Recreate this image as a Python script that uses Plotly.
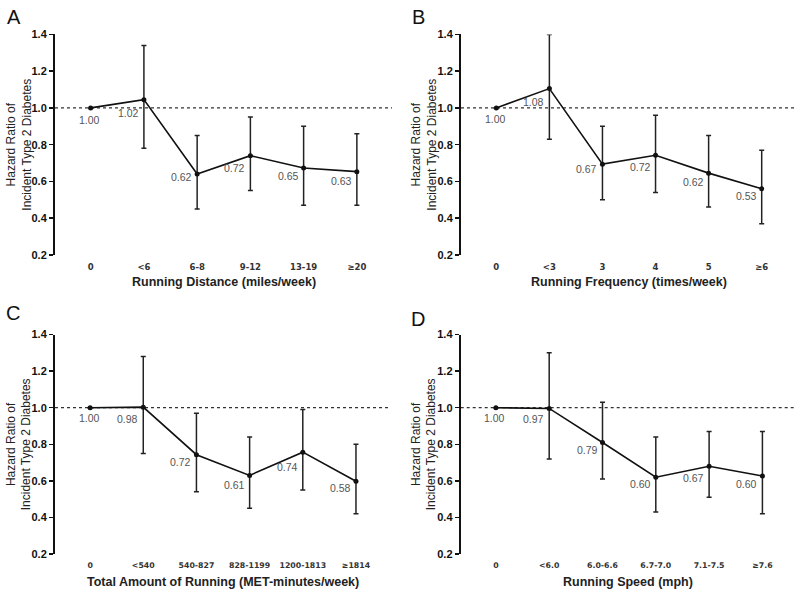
import plotly.graph_objects as go

# ---------------- data ----------------
cats_a = ["0", "<6", "6-8", "9-12", "13-19", "≥20"]
hr_a = [1.00, 1.045, 0.64, 0.74, 0.673, 0.653]
up_a = [1.00, 1.34, 0.85, 0.95, 0.90, 0.86]
lo_a = [1.00, 0.78, 0.45, 0.55, 0.47, 0.47]
lab_a = ["1.00", "1.02", "0.62", "0.72", "0.65", "0.63"]

cats_b = ["0", "<3", "3", "4", "5", "≥6"]
hr_b = [1.00, 1.105, 0.694, 0.742, 0.645, 0.56]
up_b = [1.00, 1.40, 0.90, 0.96, 0.85, 0.77]
lo_b = [1.00, 0.83, 0.50, 0.54, 0.46, 0.37]
lab_b = ["1.00", "1.08", "0.67", "0.72", "0.62", "0.53"]

cats_c = ["0", "<540", "540-827", "828-1199", "1200-1813", "≥1814"]
hr_c = [1.00, 1.003, 0.743, 0.63, 0.757, 0.598]
up_c = [1.00, 1.28, 0.97, 0.84, 0.99, 0.80]
lo_c = [1.00, 0.75, 0.54, 0.45, 0.55, 0.42]
lab_c = ["1.00", "0.98", "0.72", "0.61", "0.74", "0.58"]

cats_d = ["0", "<6.0", "6.0-6.6", "6.7-7.0", "7.1-7.5", "≥7.6"]
hr_d = [1.00, 0.996, 0.81, 0.62, 0.68, 0.627]
up_d = [1.00, 1.30, 1.03, 0.84, 0.87, 0.87]
lo_d = [1.00, 0.72, 0.61, 0.43, 0.51, 0.42]
lab_d = ["1.00", "0.97", "0.79", "0.60", "0.67", "0.60"]

xtitles = ["Running Distance (miles/week)", "Running Frequency (times/week)",
           "Total Amount of Running (MET-minutes/week)", "Running Speed (mph)"]
letters = ["A", "B", "C", "D"]
ytitle = "Hazard Ratio of<br>Incident Type 2 Diabetes"

# ---------------- style ----------------
W, H = 800, 596
FONT = "Liberation Sans, Arial, sans-serif"
panels = [
    dict(cats=cats_a, hr=hr_a, up=up_a, lo=lo_a, lab=lab_a,
         xpx=(55, 392), ypx=(29, 254), xr=(-0.67, 5.66), tick_size=8.5,
         label_dy=[12, 13, 3, 12.5, 8.5, 9.5], letter=(13.7, 11), ytx=19, xty=282),
    dict(cats=cats_b, hr=hr_b, up=up_b, lo=lo_b, lab=lab_b,
         xpx=(461, 797), ypx=(29, 254), xr=(-0.665, 5.665), tick_size=8.5,
         label_dy=[11, 13.3, 4.4, 12, 8.7, 7.4], letter=(418, 11.7), ytx=424, xty=282),
    dict(cats=cats_c, hr=hr_c, up=up_c, lo=lo_c, lab=lab_c,
         xpx=(55, 390), ypx=(335.3, 559.3), xr=(-0.66, 5.64), tick_size=7.8,
         label_dy=[10.7, 11.7, 7.3, 9.3, 14.7, 6.3], letter=(12.7, 313.7), ytx=19, xty=588),
    dict(cats=cats_d, hr=hr_d, up=up_d, lo=lo_d, lab=lab_d,
         xpx=(460.7, 796), ypx=(335.3, 559.3), xr=(-0.66, 5.63), tick_size=7.8,
         label_dy=[10.7, 11, 7.7, 6.7, 12, 8.3], letter=(418, 319), ytx=424, xty=587.5),
]

fig = go.Figure()
layout = dict(width=W, height=H, autosize=False,
              margin=dict(l=0, r=0, t=0, b=0),
              paper_bgcolor="white", plot_bgcolor="white",
              showlegend=False, font=dict(family=FONT, color="#222"))
annotations = []
shapes = []

for i, p in enumerate(panels):
    n = "" if i == 0 else str(i + 1)
    xa, ya = "x" + n, "y" + n
    xs = list(range(len(p["cats"])))
    plus = [u - v for u, v in zip(p["up"], p["hr"])]
    minus = [v - l for v, l in zip(p["hr"], p["lo"])]
    fig.add_trace(go.Scatter(
        x=xs, y=p["hr"], xaxis=xa, yaxis=ya, mode="lines+markers",
        line=dict(color="#111", width=1.6),
        marker=dict(color="#111", size=5),
        error_y=dict(type="data", symmetric=False, array=plus, arrayminus=minus,
                     color="#222", thickness=1.5, width=2.5),
        hoverinfo="skip"))
    x0, x1 = p["xpx"]
    y0, y1 = p["ypx"]
    layout["xaxis" + n] = dict(
        domain=[x0 / W, x1 / W], anchor=ya, range=list(p["xr"]),
        tickvals=xs, ticktext=p["cats"], showgrid=False, zeroline=False,
        showline=False, ticks="outside", ticklen=4, tickcolor="rgba(0,0,0,0)",
        tickfont=dict(family="DejaVu Sans, sans-serif", size=p["tick_size"],
                      color="#333", weight="bold"),
        fixedrange=True)
    layout["yaxis" + n] = dict(
        domain=[1 - y1 / H, 1 - y0 / H], anchor=xa, range=[0.2, 1.4],
        tickvals=[0.2, 0.4, 0.6, 0.8, 1.0, 1.2, 1.4], tickformat=".1f",
        showgrid=False, zeroline=False, showline=True, linewidth=2,
        linecolor="#111", ticks="outside", ticklen=4, tickwidth=1.5,
        tickcolor="#111",
        tickfont=dict(family=FONT, size=11, color="#111", weight="bold"),
        fixedrange=True)
    shapes.append(dict(type="line", xref=xa + " domain", yref=ya,
                       x0=0, x1=1, y0=1.0, y1=1.0, layer="below",
                       line=dict(color="#333", width=1.3, dash="dot")))
    for j, (v, t) in enumerate(zip(p["hr"], p["lab"])):
        annotations.append(dict(
            x=j, y=v, xref=xa, yref=ya, text=t, showarrow=False,
            xanchor="center" if j == 0 else "right", yanchor="middle",
            xshift=-1 if j == 0 else -3, yshift=-p["label_dy"][j],
            font=dict(family=FONT, size=10.5, color="#555")))
    # panel letter
    lx, ly = p["letter"]
    annotations.append(dict(x=lx / W, y=1 - ly / H, xref="paper", yref="paper",
                            text=letters[i], showarrow=False, xanchor="center",
                            yanchor="middle",
                            font=dict(family=FONT, size=20, color="#111")))
    # y title
    annotations.append(dict(x=p["ytx"] / W, y=1 - (y0 + y1) / 2 / H,
                            xref="paper", yref="paper", text=ytitle,
                            textangle=-90, showarrow=False, xanchor="center",
                            yanchor="middle",
                            font=dict(family=FONT, size=12, color="#222")))
    # x title
    annotations.append(dict(x=(x0 + x1) / 2 / W, y=1 - p["xty"] / H,
                            xref="paper", yref="paper", text=xtitles[i],
                            showarrow=False, xanchor="center", yanchor="middle",
                            font=dict(family=FONT, size=12.5, color="#222",
                                      weight="bold")))

layout["annotations"] = annotations
layout["shapes"] = shapes
fig.update_layout(**layout)
fig.write_html(
    "out.html",
    config={"displayModeBar": False, "staticPlot": True},
    post_script="document.body.style.margin='0';document.body.style.padding='0';"
                "document.body.style.overflow='hidden';",
)
